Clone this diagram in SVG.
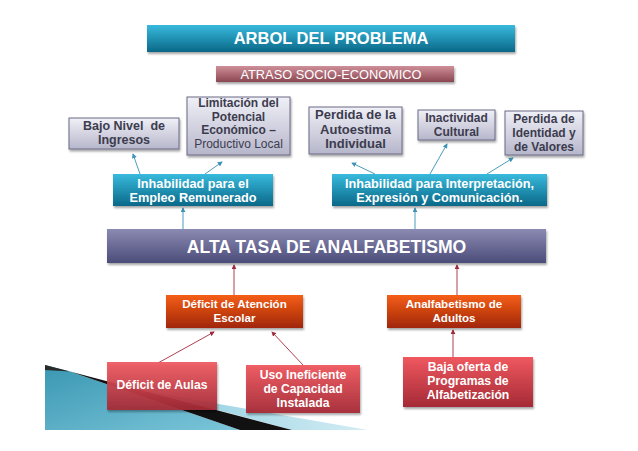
<svg xmlns="http://www.w3.org/2000/svg" width="638" height="451" viewBox="0 0 638 451">
<defs>
<linearGradient id="gTeal" x1="0" y1="0" x2="0" y2="1"><stop offset="0" stop-color="#38badd"/><stop offset="1" stop-color="#0a6888"/></linearGradient>
<linearGradient id="gRose" x1="0" y1="0" x2="0" y2="1"><stop offset="0" stop-color="#cf8f98"/><stop offset="1" stop-color="#8a4652"/></linearGradient>
<linearGradient id="gGray" x1="0" y1="0" x2="0" y2="1"><stop offset="0" stop-color="#f0f0f7"/><stop offset="1" stop-color="#b6b6cb"/></linearGradient>
<linearGradient id="gPurple" x1="0" y1="0" x2="0" y2="1"><stop offset="0" stop-color="#8a8ab2"/><stop offset="1" stop-color="#4c4c7a"/></linearGradient>
<linearGradient id="gOrange" x1="0" y1="0" x2="0" y2="1"><stop offset="0" stop-color="#f55e16"/><stop offset="1" stop-color="#a02608"/></linearGradient>
<linearGradient id="gRed" x1="0" y1="0" x2="0" y2="1"><stop offset="0" stop-color="#f0585f"/><stop offset="1" stop-color="#a52a36"/></linearGradient>
<linearGradient id="gDeco" x1="0" y1="0" x2="1" y2="1"><stop offset="0" stop-color="#3a97b2"/><stop offset="1" stop-color="#7cc6da"/></linearGradient>
<linearGradient id="gDecoLight" x1="0" y1="0" x2="1" y2="0"><stop offset="0" stop-color="#8ccde0"/><stop offset="1" stop-color="#d4edf4"/></linearGradient>
<filter id="sh" x="-10%" y="-20%" width="120%" height="150%"><feDropShadow dx="1" dy="2" stdDeviation="1.2" flood-color="#000" flood-opacity="0.35"/></filter>
<marker id="aT" viewBox="0 0 6 6" refX="5" refY="3" markerWidth="5" markerHeight="5" orient="auto"><path d="M0,0 L6,3 L0,6 z" fill="#3d93b6"/></marker>
<marker id="aR" viewBox="0 0 6 6" refX="5" refY="3" markerWidth="5" markerHeight="5" orient="auto"><path d="M0,0 L6,3 L0,6 z" fill="#a02a3a"/></marker>
<style>
.t{font-family:"Liberation Sans",Arial,sans-serif;text-anchor:middle;font-weight:bold}
.w{fill:#ffffff}
.g{fill:#3c3c4e;font-size:12px}
.cT{stroke:#4a9dbe;stroke-width:1;fill:none;marker-end:url(#aT)}
.cR{stroke:#b04050;stroke-width:1;fill:none;marker-end:url(#aR)}
.box{filter:url(#sh)}
.gb{fill:url(#gGray);stroke:#6a6a86;stroke-width:1}
.tb{font-size:12.7px}
.ob{font-size:11.6px}
.rb{font-size:12.2px}
</style>
</defs>
<rect width="638" height="451" fill="#ffffff"/>

<g id="decoration">
<polygon points="45,365 70,371.6 240,430 45,430" fill="url(#gDeco)"/>
<polygon points="150,392 368,430 292,430" fill="url(#gDecoLight)"/>
<polygon points="70,371.6 292,430 240,430" fill="#111111"/>
<polygon points="45,365 70,371.6 45,370" fill="#2a2a2a"/>
</g>

<g id="connectors">
<line class="cT" x1="140" y1="174" x2="133" y2="154"/>
<line class="cT" x1="205" y1="174" x2="222" y2="162"/>
<line class="cT" x1="183" y1="229" x2="183" y2="208"/>
<line class="cT" x1="415" y1="229" x2="415" y2="208"/>
<line class="cT" x1="375" y1="174" x2="352" y2="163"/>
<line class="cT" x1="430" y1="174" x2="447" y2="144"/>
<line class="cT" x1="487" y1="174" x2="513" y2="158"/>
<line class="cR" x1="234" y1="295" x2="234" y2="265"/>
<line class="cR" x1="457" y1="295" x2="457" y2="265"/>
<line class="cR" x1="158" y1="363" x2="214" y2="332"/>
<line class="cR" x1="303" y1="365" x2="272" y2="332"/>
<line class="cR" x1="453" y1="357" x2="453" y2="330"/>
</g>

<g id="title">
<rect class="box" x="147" y="25" width="368" height="27" fill="url(#gTeal)"/>
<text class="t w" x="331" y="44" font-size="16.5">ARBOL DEL PROBLEMA</text>
</g>
<g id="atraso">
<rect class="box" x="216" y="66" width="238" height="16" fill="url(#gRose)"/>
<text class="t w" x="331" y="78.5" font-size="12.8" style="font-weight:normal">ATRASO SOCIO-ECONOMICO</text>
</g>

<g id="bajo-nivel">
<rect class="box gb" x="69" y="118" width="110" height="31"/>
<text class="t g" x="124" y="130" style="font-size:12.5px" xml:space="preserve">Bajo Nivel  de</text>
<text class="t g" x="124" y="144" style="font-size:12.5px">Ingresos</text>
</g>
<g id="limitacion">
<rect class="box gb" x="187" y="97" width="103" height="58"/>
<text class="t g" x="238.5" y="107">Limitación del</text>
<text class="t g" x="238.5" y="120.5">Potencial</text>
<text class="t g" x="238.5" y="134">Económico –</text>
<text class="t g" x="238.5" y="148" style="font-weight:normal">Productivo Local</text>
</g>
<g id="autoestima">
<rect class="box gb" x="309" y="107" width="93" height="47"/>
<text class="t g" x="355.5" y="119" style="font-size:13px">Perdida de la</text>
<text class="t g" x="355.5" y="133.5" style="font-size:13px">Autoestima</text>
<text class="t g" x="355.5" y="148" style="font-size:13px">Individual</text>
</g>
<g id="inactividad">
<rect class="box gb" x="418" y="110" width="77" height="30"/>
<text class="t g" x="456.5" y="122">Inactividad</text>
<text class="t g" x="456.5" y="135.5">Cultural</text>
</g>
<g id="valores">
<rect class="box gb" x="505" y="111" width="78" height="44"/>
<text class="t g" x="544" y="122.5">Perdida de</text>
<text class="t g" x="544" y="136.5">Identidad y</text>
<text class="t g" x="544" y="150.5">de Valores</text>
</g>

<g id="empleo">
<rect class="box" x="113" y="174" width="160" height="32" fill="url(#gTeal)"/>
<text class="t w tb" x="193" y="187.5">Inhabilidad para el</text>
<text class="t w tb" x="193" y="201.5">Empleo Remunerado</text>
</g>
<g id="interpretacion">
<rect class="box" x="332" y="174" width="215" height="32" fill="url(#gTeal)"/>
<text class="t w tb" x="439.5" y="187.5">Inhabilidad para Interpretación,</text>
<text class="t w tb" x="439.5" y="201.5">Expresión y Comunicación.</text>
</g>

<g id="alta-tasa">
<rect class="box" x="107" y="229" width="439" height="34" fill="url(#gPurple)"/>
<text class="t w" x="326.5" y="253" font-size="17.6">ALTA TASA DE ANALFABETISMO</text>
</g>

<g id="deficit-atencion">
<rect class="box" x="166" y="295" width="137" height="33" fill="url(#gOrange)"/>
<text class="t w ob" x="234.5" y="307.5">Déficit de Atención</text>
<text class="t w ob" x="234.5" y="322">Escolar</text>
</g>
<g id="analfabetismo-adultos">
<rect class="box" x="387" y="295" width="134" height="33" fill="url(#gOrange)"/>
<text class="t w ob" x="454" y="307.5">Analfabetismo de</text>
<text class="t w ob" x="454" y="322">Adultos</text>
</g>

<g id="deficit-aulas">
<rect class="box" x="107" y="362" width="110" height="48" fill="url(#gRed)" fill-opacity="0.92"/>
<text class="t w rb" x="162" y="389">Déficit de Aulas</text>
</g>
<g id="uso-ineficiente">
<rect class="box" x="246" y="365" width="114" height="48" fill="url(#gRed)" fill-opacity="0.95"/>
<text class="t w rb" x="303" y="378.5">Uso Ineficiente</text>
<text class="t w rb" x="303" y="392.5">de Capacidad</text>
<text class="t w rb" x="303" y="406.5">Instalada</text>
</g>
<g id="baja-oferta">
<rect class="box" x="403" y="357" width="130" height="50" fill="url(#gRed)"/>
<text class="t w rb" x="468" y="370.5">Baja oferta de</text>
<text class="t w rb" x="468" y="384.5">Programas de</text>
<text class="t w rb" x="468" y="398.5">Alfabetización</text>
</g>
</svg>
